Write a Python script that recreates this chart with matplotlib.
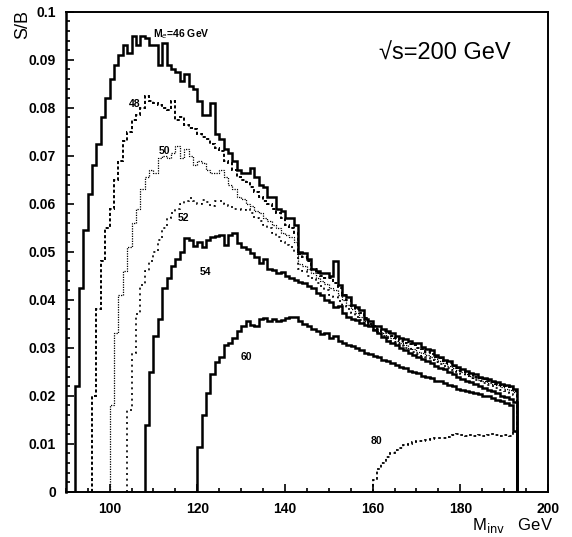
import matplotlib
matplotlib.use("Agg")
import matplotlib.pyplot as plt
import numpy as np
from matplotlib.ticker import MultipleLocator, FuncFormatter

plt.rcParams['font.family'] = ['Liberation Sans', 'DejaVu Sans']

# S/B histograms, 1 GeV bins, each from its first bin up to 193 GeV
start46 = 92
sb46 = [0.022, 0.0425, 0.0545, 0.062, 0.068, 0.0725, 0.078, 0.082, 0.086, 0.089,
        0.091, 0.093, 0.0915, 0.095, 0.093, 0.095, 0.0945, 0.093, 0.093, 0.089,
        0.0935, 0.089, 0.088, 0.0875, 0.0855, 0.087, 0.0845, 0.084, 0.0815, 0.0785,
        0.0785, 0.081, 0.0745, 0.0735, 0.0715, 0.0705, 0.069, 0.067, 0.0665, 0.0665,
        0.0675, 0.0655, 0.064, 0.0635, 0.0615, 0.0615, 0.059, 0.0585, 0.057, 0.057,
        0.0555,
        0.050, 0.0497, 0.0485, 0.0465, 0.046, 0.0455, 0.0455, 0.045, 0.048, 0.043,
        0.041, 0.0405, 0.039, 0.0385, 0.0378, 0.036, 0.0355, 0.0345, 0.0345, 0.034,
        0.0335, 0.033, 0.0325, 0.032, 0.0318, 0.0315, 0.031, 0.031, 0.0302, 0.0298,
        0.0295, 0.0285, 0.0282, 0.0275, 0.0272, 0.0265, 0.026, 0.0255, 0.0252, 0.0248,
        0.0245, 0.024, 0.0238, 0.0235, 0.023, 0.0228, 0.0225, 0.0222, 0.022, 0.0215]

start48 = 96
sb48 = [0.020, 0.038, 0.048, 0.055, 0.059, 0.065, 0.069, 0.073, 0.075, 0.0775,
        0.0785, 0.080, 0.0825, 0.0815, 0.081, 0.0805, 0.080, 0.0795, 0.0815, 0.0775,
        0.078, 0.0765, 0.0758, 0.0755, 0.0745, 0.074, 0.0735, 0.0725, 0.0717, 0.071,
        0.069, 0.0685, 0.067, 0.0655, 0.065, 0.0645, 0.0635, 0.0625, 0.0615, 0.0605,
        0.060, 0.059, 0.058, 0.057, 0.0555, 0.055, 0.054,
        0.0495, 0.049, 0.048, 0.0465, 0.0455, 0.045, 0.0445, 0.0445, 0.0435, 0.0425,
        0.041, 0.040, 0.0388, 0.038, 0.0372, 0.0362, 0.035, 0.0345, 0.034, 0.0335,
        0.033, 0.0325, 0.032, 0.0315, 0.031, 0.0308, 0.0305, 0.030, 0.0298, 0.0292,
        0.0288, 0.0282, 0.0278, 0.0272, 0.0268, 0.0262, 0.0258, 0.0252, 0.025, 0.0245,
        0.024, 0.0238, 0.0235, 0.023, 0.0228, 0.0225, 0.0222, 0.022, 0.0218, 0.021]

start50 = 100
sb50 = [0.018, 0.033, 0.041, 0.046, 0.051, 0.056, 0.059, 0.063, 0.0655, 0.067,
        0.0665, 0.0695, 0.070, 0.0695, 0.0705, 0.072, 0.0695, 0.0715, 0.070, 0.068,
        0.069, 0.0685, 0.067, 0.0665, 0.0665, 0.067, 0.0655, 0.064, 0.063, 0.0615,
        0.061, 0.060, 0.0595, 0.0585, 0.058, 0.057, 0.0565, 0.0555, 0.055, 0.054,
        0.0535, 0.053, 0.052,
        0.0475, 0.047, 0.0465, 0.0455, 0.0445, 0.044, 0.0432, 0.0425, 0.042, 0.041,
        0.040, 0.039, 0.038, 0.0372, 0.0365, 0.0355, 0.0348, 0.034, 0.0335, 0.033,
        0.0325, 0.032, 0.0315, 0.031, 0.0305, 0.030, 0.0298, 0.0292, 0.029, 0.0285,
        0.028, 0.0277, 0.0272, 0.0268, 0.0262, 0.0258, 0.0253, 0.025, 0.0245, 0.0242,
        0.0238, 0.0234, 0.023, 0.0227, 0.0225, 0.0222, 0.0218, 0.0215, 0.0212, 0.0208]

start52 = 104
sb52 = [0.017, 0.029, 0.037, 0.043, 0.046, 0.048, 0.050, 0.0525, 0.055, 0.057,
        0.058, 0.059, 0.060, 0.0605, 0.0612, 0.0605, 0.060, 0.0607, 0.0603, 0.0595,
        0.0605, 0.0605, 0.060, 0.0595, 0.059, 0.059, 0.0588, 0.059, 0.058, 0.057,
        0.0565, 0.0555, 0.055, 0.054, 0.053, 0.052, 0.0515, 0.051, 0.050,
        0.0465, 0.046, 0.045, 0.0445, 0.0435, 0.0428, 0.042, 0.041, 0.0405, 0.0398,
        0.039, 0.038, 0.0372, 0.0365, 0.0358, 0.035, 0.0345, 0.0338, 0.033, 0.0325,
        0.032, 0.0315, 0.031, 0.0305, 0.030, 0.0297, 0.0292, 0.0287, 0.0283, 0.028,
        0.0275, 0.027, 0.0266, 0.0262, 0.0258, 0.0253, 0.025, 0.0245, 0.0242, 0.0238,
        0.0234, 0.023, 0.0227, 0.0223, 0.022, 0.0217, 0.0213, 0.021, 0.0205, 0.0202]

start54 = 108
sb54 = [0.014, 0.025, 0.0325, 0.036, 0.0425, 0.0445, 0.047, 0.0485, 0.050, 0.0528,
        0.0525, 0.0512, 0.052, 0.051, 0.0525, 0.053, 0.0532, 0.0535, 0.0515, 0.0535,
        0.054, 0.0518, 0.051, 0.0505, 0.0497, 0.049, 0.0477, 0.0485, 0.0465, 0.0462,
        0.0455, 0.0458, 0.045, 0.0445, 0.0442, 0.0438,
        0.0435, 0.0428, 0.0425, 0.0415, 0.041, 0.040, 0.0395, 0.0385, 0.0388, 0.0372,
        0.0365, 0.036, 0.0358, 0.0352, 0.0348, 0.0345, 0.0338, 0.033, 0.0322, 0.0315,
        0.031, 0.0305, 0.030, 0.0295, 0.029, 0.0285, 0.028, 0.0276, 0.0272, 0.0268,
        0.0262, 0.0258, 0.0255, 0.025, 0.0245, 0.024, 0.0235, 0.0232, 0.0228, 0.0224,
        0.022, 0.0216, 0.0213, 0.021, 0.0205, 0.020, 0.0198, 0.0193, 0.0188]

start60 = 120
sb60 = [0.0093, 0.016, 0.0207, 0.0245, 0.027, 0.0282, 0.0305, 0.031, 0.032, 0.0335,
        0.0345, 0.0355, 0.0348, 0.0345, 0.036, 0.0362, 0.0355, 0.036, 0.0355, 0.0358,
        0.0362, 0.0365, 0.0365, 0.0355, 0.035, 0.0345, 0.034, 0.0335, 0.0328, 0.033,
        0.032, 0.0325, 0.0315, 0.031, 0.0305, 0.0303, 0.030, 0.0295, 0.029, 0.0288,
        0.0283, 0.028, 0.0275, 0.0272, 0.0268, 0.0265, 0.026, 0.0258, 0.0252, 0.025,
        0.0248, 0.0242, 0.024, 0.0238, 0.0232, 0.023, 0.0226, 0.0222, 0.022, 0.0215,
        0.0213, 0.021, 0.0208, 0.0205, 0.0203, 0.020, 0.020, 0.0195, 0.0192, 0.019,
        0.0185, 0.018, 0.0127]

start80 = 160
sb80 = [0.0025, 0.0048, 0.006, 0.0072, 0.0082, 0.0087, 0.0092, 0.0097, 0.010, 0.0103,
        0.0106, 0.0107, 0.0108, 0.011, 0.0112, 0.0113, 0.0112, 0.0115, 0.0118, 0.012,
        0.0119, 0.0117, 0.0118, 0.0117, 0.0118, 0.0117, 0.0118, 0.012, 0.0118, 0.0117,
        0.0118, 0.0116, 0.0125]

fig = plt.figure(figsize=(5.72, 5.37), dpi=100)
ax = fig.add_axes([0.115, 0.084, 0.843, 0.894])

curves = [
    (start46, sb46, dict(color='black', lw=1.8, ls='-')),
    (start48, sb48, dict(color='black', lw=1.4, ls=(0, (1.6, 1.2)))),
    (start50, sb50, dict(color='black', lw=0.9, ls=(0, (1, 1)))),
    (start52, sb52, dict(color='black', lw=1.2, ls=(0, (1.2, 2.2)))),
    (start54, sb54, dict(color='black', lw=1.8, ls='-')),
    (start60, sb60, dict(color='black', lw=1.8, ls='-')),
    (start80, sb80, dict(color='black', lw=1.3, ls=(0, (1.5, 1.5)))),
]
for st, vals, style in curves:
    edges = np.arange(st, st + len(vals) + 1)
    ax.stairs(vals, edges, baseline=0, **style)

ax.set_xlim(90, 200)
ax.set_ylim(0, 0.1)
ax.xaxis.set_major_locator(MultipleLocator(20))
ax.xaxis.set_minor_locator(MultipleLocator(5))
ax.yaxis.set_major_locator(MultipleLocator(0.01))
ax.yaxis.set_minor_locator(MultipleLocator(0.002))


def yfmt(v, pos):
    if abs(v) < 1e-9:
        return '0'
    return ('%.2f' % v).rstrip('0')


ax.yaxis.set_major_formatter(FuncFormatter(yfmt))
ax.xaxis.set_major_formatter(FuncFormatter(lambda v, p: '%d' % v if v > 90 else ''))
ax.tick_params(which='both', direction='in', top=False, right=False, width=1.2)
ax.tick_params(which='major', length=6, labelsize=10, pad=7)
ax.tick_params(which='minor', length=3)
for lab in ax.get_xticklabels() + ax.get_yticklabels():
    lab.set_fontweight('bold')
for sp in ax.spines.values():
    sp.set_linewidth(1.4)
ax.spines['left'].set_linewidth(1.8)

# curve labels
ax.text(110, 0.0953, r'M$_e$=46 GeV', fontsize=7.5, fontweight='bold', va='center')
ax.text(104.3, 0.0808, '48', fontsize=7.5, fontweight='bold', va='center')
ax.text(111.3, 0.0710, '50', fontsize=7.5, fontweight='bold', va='center')
ax.text(115.5, 0.0570, '52', fontsize=7.5, fontweight='bold', va='center')
ax.text(120.5, 0.0458, '54', fontsize=7.5, fontweight='bold', va='center')
ax.text(130.0, 0.0280, '60', fontsize=7.5, fontweight='bold', va='center')
ax.text(159.5, 0.0106, '80', fontsize=7.5, fontweight='bold', va='center')

ax.text(161.5, 0.0913, '\u221as=200 GeV', fontsize=17, va='center')

fig.text(0.04, 0.955, 'S/B', rotation=90, fontsize=13, ha='center', va='center')
fig.text(0.825, 0.022, r'M$_{\rm inv}$   GeV', fontsize=12, ha='left', va='center')

fig.savefig('out.png', dpi=100)
